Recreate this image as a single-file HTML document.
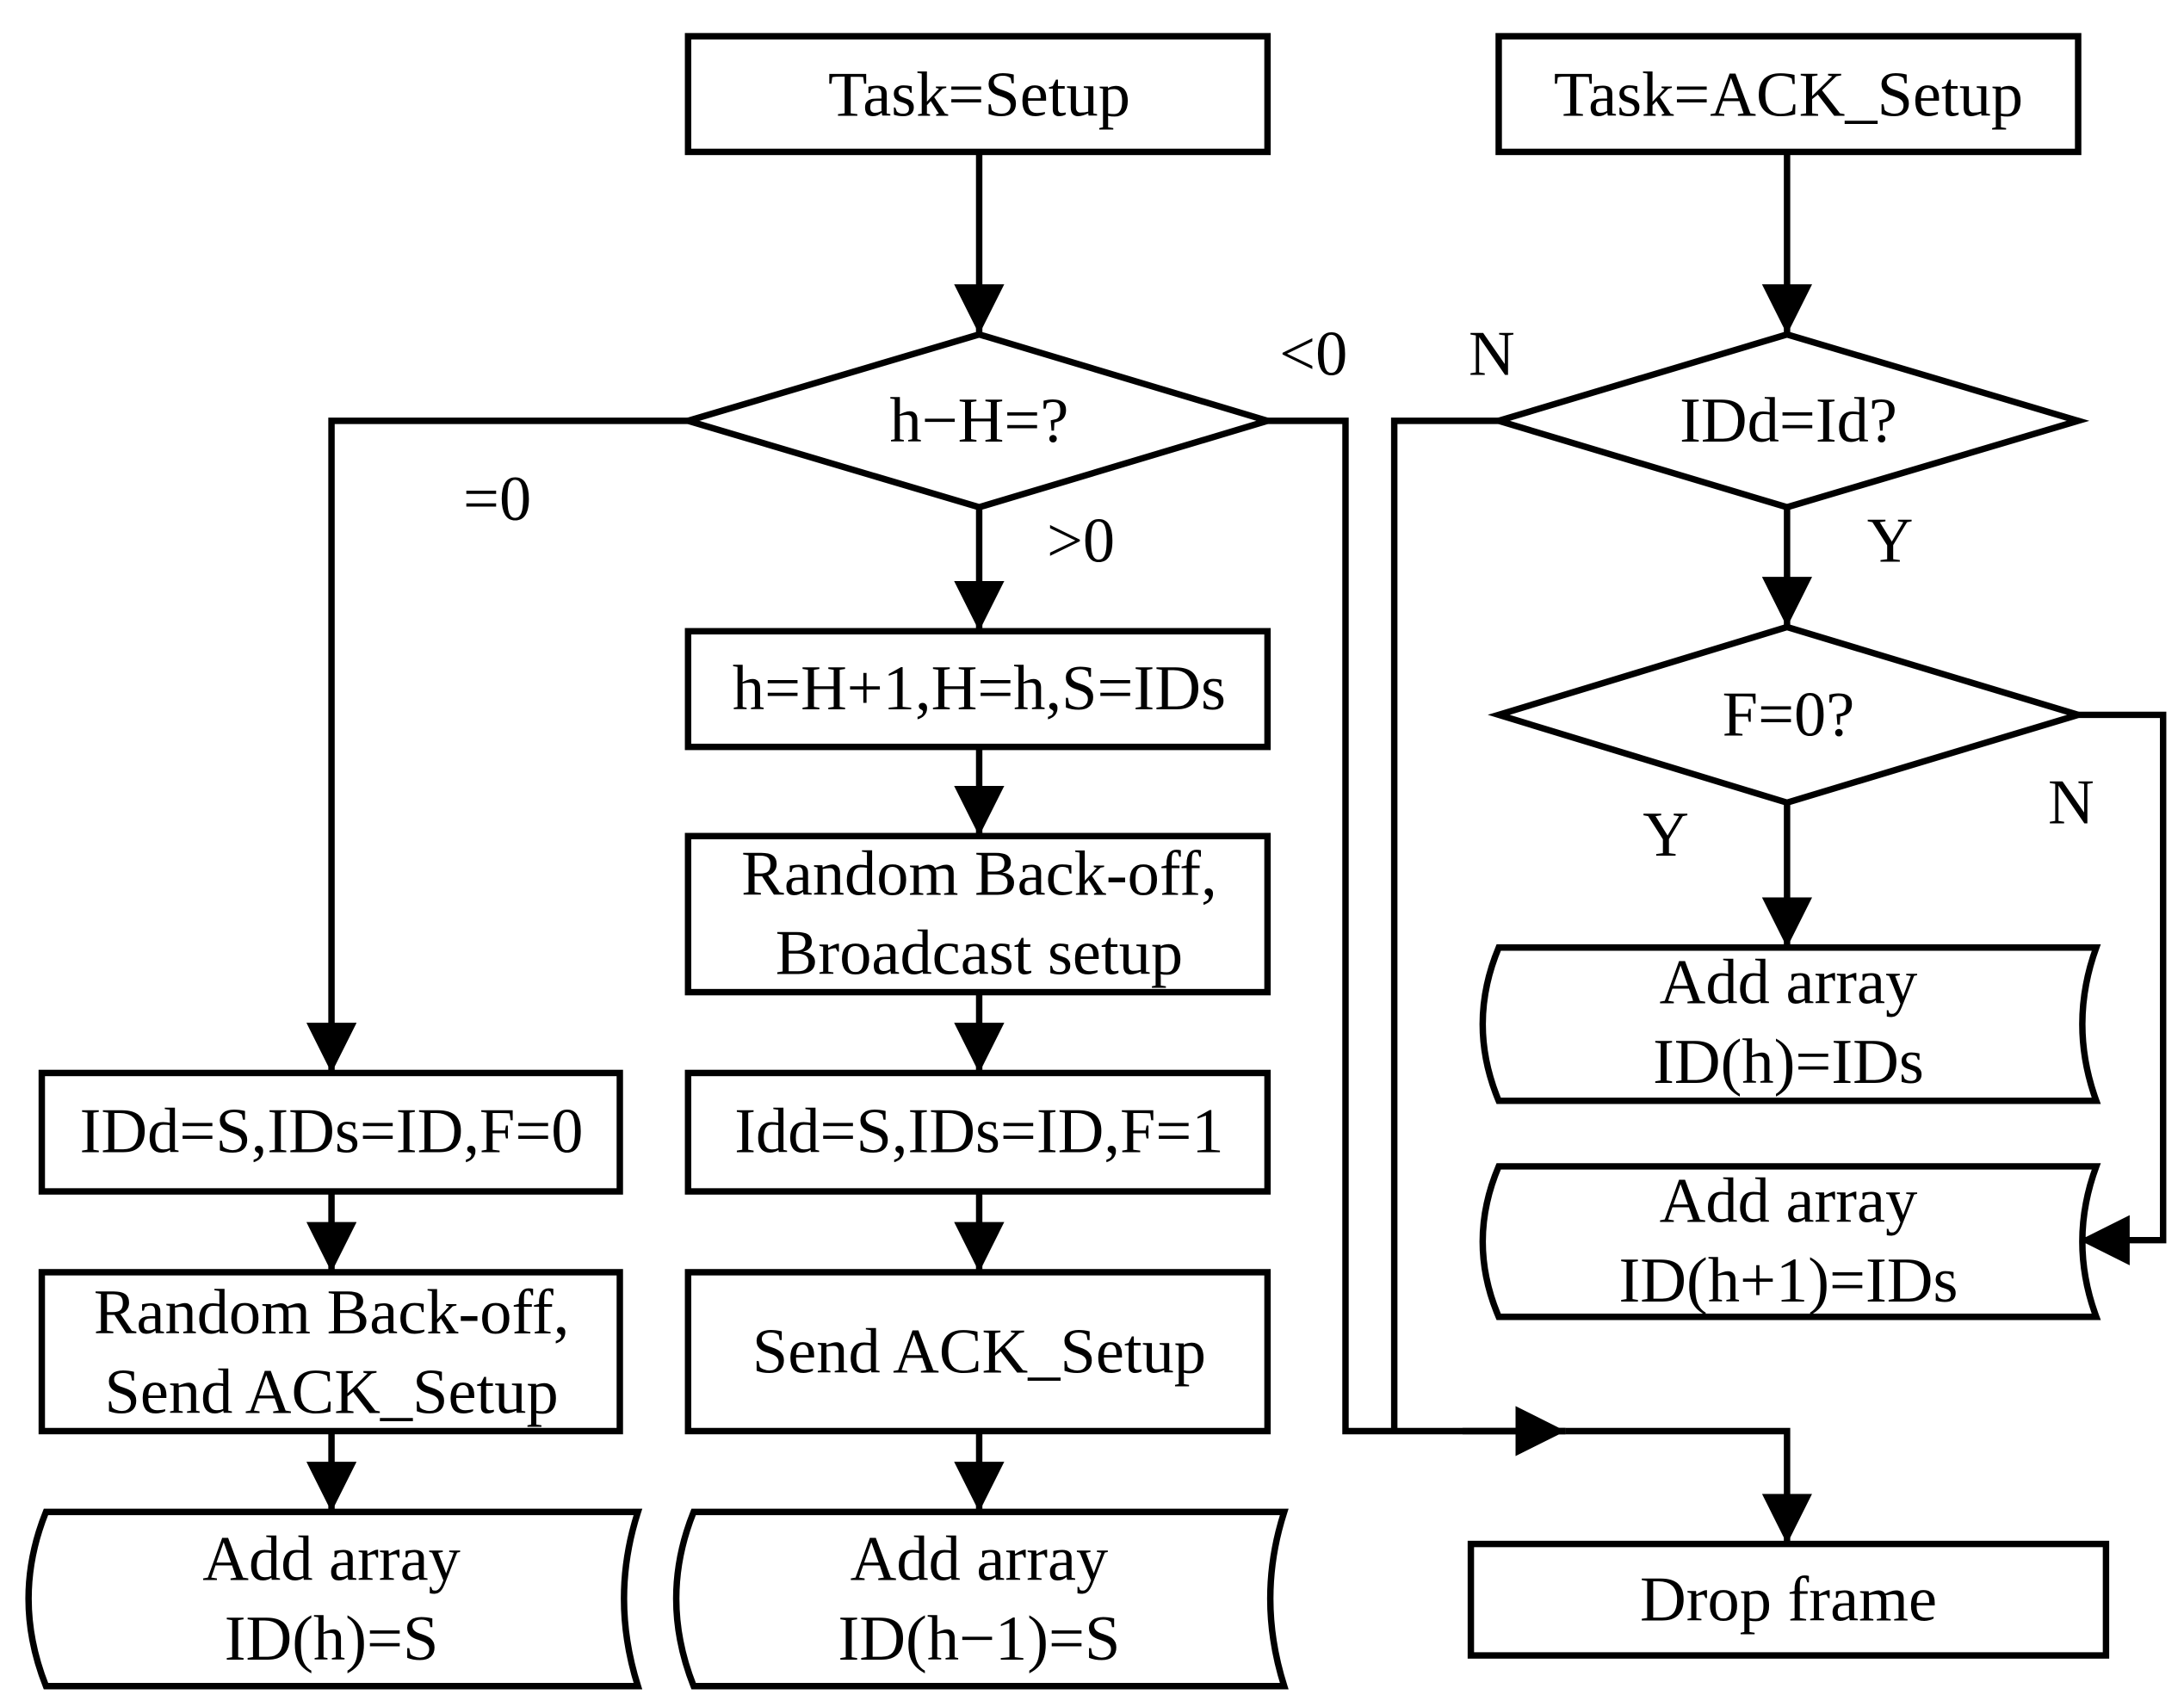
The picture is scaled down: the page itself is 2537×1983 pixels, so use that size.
<!DOCTYPE html>
<html><head><style>html,body{margin:0;padding:0;background:#fff}svg{display:block}</style></head>
<body>
<svg width="2537" height="1983" viewBox="0 0 1568 1225" preserveAspectRatio="none" xmlns="http://www.w3.org/2000/svg">
<defs>
<marker id="a" markerUnits="userSpaceOnUse" markerWidth="40" markerHeight="40" refX="36" refY="18" orient="auto"><path d="M0,0 L36,18 L0,36 Z" fill="#000"/></marker>
</defs>
<g fill="none" stroke="#000" stroke-width="4.6">
<rect x="494" y="26" width="416" height="83"/>
<rect x="1076" y="26" width="416" height="83"/>
<polygon points="494,302 703,240 910,302 703,364"/>
<polygon points="1076,302 1283,240 1492,302 1283,364"/>
<polygon points="1076,513 1283,450 1492,513 1283,576"/>
<rect x="494" y="453" width="416" height="83"/>
<rect x="494" y="600" width="416" height="112"/>
<rect x="494" y="770" width="416" height="85"/>
<rect x="494" y="913" width="416" height="114"/>
<rect x="30" y="770" width="415" height="85"/>
<rect x="30" y="913" width="415" height="114"/>
<rect x="1056" y="1108" width="456" height="80"/>
<path d="M33,1085 L458,1085 Q438,1147 458,1210 L33,1210 Q8,1147 33,1085 Z"/>
<path d="M498,1085 L922,1085 Q902,1147 922,1210 L498,1210 Q473,1147 498,1085 Z"/>
<path d="M1076,680 L1505,680 Q1485,735 1505,790 L1076,790 Q1053,735 1076,680 Z"/>
<path d="M1076,837 L1505,837 Q1485,891 1505,945 L1076,945 Q1053,891 1076,837 Z"/>
<line x1="703" y1="109" x2="703" y2="240" marker-end="url(#a)"/>
<line x1="1283" y1="109" x2="1283" y2="240" marker-end="url(#a)"/>
<polyline points="494,302 238,302 238,770" marker-end="url(#a)"/>
<line x1="703" y1="364" x2="703" y2="453" marker-end="url(#a)"/>
<line x1="703" y1="536" x2="703" y2="600" marker-end="url(#a)"/>
<line x1="703" y1="712" x2="703" y2="770" marker-end="url(#a)"/>
<line x1="703" y1="855" x2="703" y2="913" marker-end="url(#a)"/>
<line x1="703" y1="1027" x2="703" y2="1085" marker-end="url(#a)"/>
<line x1="238" y1="855" x2="238" y2="913" marker-end="url(#a)"/>
<line x1="238" y1="1027" x2="238" y2="1085" marker-end="url(#a)"/>
<polyline points="910,302 966,302 966,1027 1124,1027"/>
<line x1="1050" y1="1027" x2="1124" y2="1027" marker-end="url(#a)"/>
<polyline points="1124,1027 1283,1027 1283,1108" marker-end="url(#a)"/>
<polyline points="1076,302 1001,302 1001,1027"/>
<line x1="1283" y1="364" x2="1283" y2="450" marker-end="url(#a)"/>
<line x1="1283" y1="576" x2="1283" y2="680" marker-end="url(#a)"/>
<polyline points="1492,513 1553,513 1553,890 1493,890" marker-end="url(#a)"/>
</g>
<g font-family="'Liberation Serif',serif" font-size="46" text-anchor="middle" fill="#000">
<text x="703" y="83">Task=Setup</text>
<text x="1284" y="83">Task=ACK_Setup</text>
<text x="703" y="317">h−H=?</text>
<text x="1284" y="317">IDd=Id?</text>
<text x="1284" y="528">F=0?</text>
<text x="703" y="509">h=H+1,H=h,S=IDs</text>
<text x="703" y="642">Random Back-off,</text>
<text x="703" y="699">Broadcast setup</text>
<text x="703" y="827">Idd=S,IDs=ID,F=1</text>
<text x="703" y="985">Send ACK_Setup</text>
<text x="238" y="827">IDd=S,IDs=ID,F=0</text>
<text x="238" y="957">Random Back-off,</text>
<text x="238" y="1014">Send ACK_Setup</text>
<text x="238" y="1134">Add array</text>
<text x="238" y="1191">ID(h)=S</text>
<text x="703" y="1134">Add array</text>
<text x="703" y="1191">ID(h−1)=S</text>
<text x="1284" y="720">Add array</text>
<text x="1284" y="777">ID(h)=IDs</text>
<text x="1284" y="877">Add array</text>
<text x="1284" y="934">ID(h+1)=IDs</text>
<text x="1284" y="1163">Drop frame</text>
<text x="357" y="373">=0</text>
<text x="943" y="269">&lt;0</text>
<text x="776" y="403">&gt;0</text>
<text x="1071" y="269">N</text>
<text x="1357" y="403">Y</text>
<text x="1196" y="614">Y</text>
<text x="1487" y="591">N</text>
</g>
</svg>
</body></html>
